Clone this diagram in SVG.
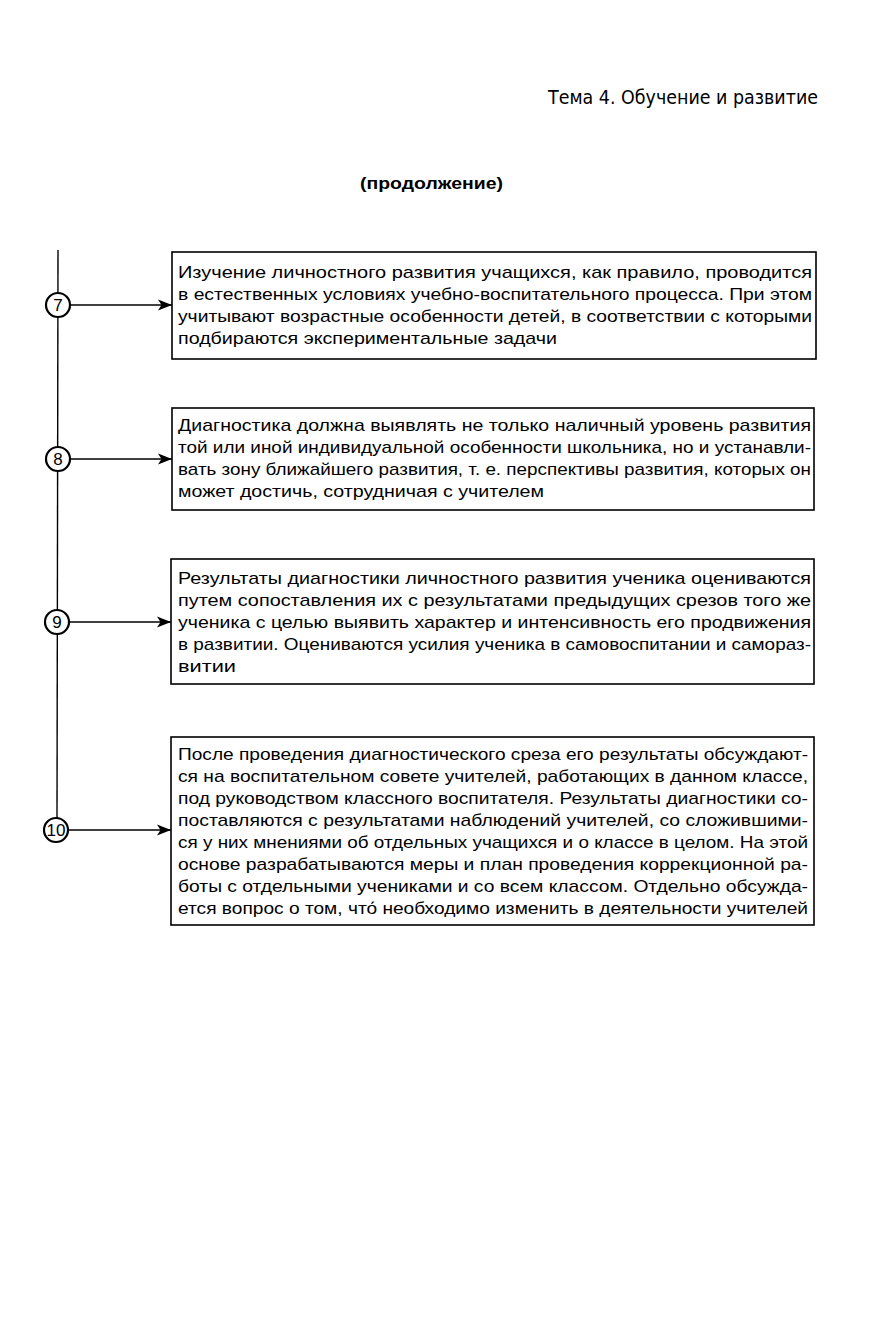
<svg xmlns="http://www.w3.org/2000/svg" width="888" height="1334" viewBox="0 0 888 1334">
<style>
.box{fill:#fff;stroke:#000;stroke-width:1.6}
.t{font-family:"Liberation Sans",Arial,sans-serif;font-size:17px;fill:#000}
.num{font-family:"Liberation Sans",Arial,sans-serif;font-size:17px;fill:#000;text-anchor:middle}
.circ{fill:#fff;stroke:#000;stroke-width:2.2}
.ln{stroke:#000;stroke-width:1.4;fill:none}
</style>
<defs>
<marker id="arr" markerWidth="16" markerHeight="12" refX="14" refY="6" orient="auto" markerUnits="userSpaceOnUse">
<path d="M0,0.5 L14,6 L0,11.5 L3.5,6 Z" fill="#000"/>
</marker>
</defs>
<rect width="888" height="1334" fill="#fff"/>
<g id="header">
<text x="548" y="104" font-family="DejaVu Sans,sans-serif" font-size="20" textLength="270" lengthAdjust="spacingAndGlyphs">Тема 4. Обучение и развитие</text>
<text x="360" y="189" font-family="Liberation Sans,Arial,sans-serif" font-size="17" font-weight="bold" textLength="143" lengthAdjust="spacingAndGlyphs">(продолжение)</text>
</g>
<g id="connectors">
<line class="ln" x1="58" y1="250" x2="57" y2="818" stroke-width="1.8"/>
<line class="ln" x1="70" y1="305" x2="172" y2="305" marker-end="url(#arr)"/>
<line class="ln" x1="70" y1="459" x2="172" y2="459" marker-end="url(#arr)" stroke-width="1.8"/>
<line class="ln" x1="69" y1="622" x2="171" y2="622" marker-end="url(#arr)"/>
<line class="ln" x1="68" y1="830" x2="171" y2="830" marker-end="url(#arr)"/>
</g>
<g id="n7">
<circle class="circ" cx="58" cy="305" r="12"/>
<text class="num" x="58" y="311">7</text>
</g>
<g id="n8">
<circle class="circ" cx="58" cy="459" r="12"/>
<text class="num" x="58" y="465">8</text>
</g>
<g id="n9">
<circle class="circ" cx="57" cy="622" r="12"/>
<text class="num" x="57" y="628">9</text>
</g>
<g id="n10">
<circle class="circ" cx="56" cy="830" r="12"/>
<text class="num" x="56" y="836" textLength="19" lengthAdjust="spacingAndGlyphs">10</text>
</g>
<g id="box7">
<rect class="box" x="172" y="252" width="644" height="107"/>
<text class="t" x="178" y="278" textLength="634" lengthAdjust="spacingAndGlyphs">Изучение личностного развития учащихся, как правило, проводится</text>
<text class="t" x="178" y="300" textLength="634" lengthAdjust="spacingAndGlyphs">в естественных условиях учебно-воспитательного процесса. При этом</text>
<text class="t" x="178" y="322" textLength="634" lengthAdjust="spacingAndGlyphs">учитывают возрастные особенности детей, в соответствии с которыми</text>
<text class="t" x="178" y="344" textLength="379" lengthAdjust="spacingAndGlyphs">подбираются экспериментальные задачи</text>
</g>
<g id="box8">
<rect class="box" x="172" y="408" width="642" height="102"/>
<text class="t" x="178" y="431" textLength="633" lengthAdjust="spacingAndGlyphs">Диагностика должна выявлять не только наличный уровень развития</text>
<text class="t" x="178" y="453" textLength="633" lengthAdjust="spacingAndGlyphs">той или иной индивидуальной особенности школьника, но и устанавли-</text>
<text class="t" x="178" y="475" textLength="633" lengthAdjust="spacingAndGlyphs">вать зону ближайшего развития, т. е. перспективы развития, которых он</text>
<text class="t" x="178" y="497" textLength="366" lengthAdjust="spacingAndGlyphs">может достичь, сотрудничая с учителем</text>
</g>
<g id="box9">
<rect class="box" x="171" y="559" width="643" height="125"/>
<text class="t" x="178" y="584" textLength="633" lengthAdjust="spacingAndGlyphs">Результаты диагностики личностного развития ученика оцениваются</text>
<text class="t" x="178" y="606" textLength="633" lengthAdjust="spacingAndGlyphs">путем сопоставления их с результатами предыдущих срезов того же</text>
<text class="t" x="178" y="628" textLength="633" lengthAdjust="spacingAndGlyphs">ученика с целью выявить характер и интенсивность его продвижения</text>
<text class="t" x="178" y="650" textLength="633" lengthAdjust="spacingAndGlyphs">в развитии. Оцениваются усилия ученика в самовоспитании и самораз-</text>
<text class="t" x="178" y="672" textLength="58" lengthAdjust="spacingAndGlyphs">витии</text>
</g>
<g id="box10">
<rect class="box" x="171" y="737" width="643" height="188"/>
<text class="t" x="178" y="760" textLength="630" lengthAdjust="spacingAndGlyphs">После проведения диагностического среза его результаты обсуждают-</text>
<text class="t" x="178" y="782" textLength="630" lengthAdjust="spacingAndGlyphs">ся на воспитательном совете учителей, работающих в данном классе,</text>
<text class="t" x="178" y="804" textLength="630" lengthAdjust="spacingAndGlyphs">под руководством классного воспитателя. Результаты диагностики со-</text>
<text class="t" x="178" y="826" textLength="630" lengthAdjust="spacingAndGlyphs">поставляются с результатами наблюдений учителей, со сложившими-</text>
<text class="t" x="178" y="848" textLength="630" lengthAdjust="spacingAndGlyphs">ся у них мнениями об отдельных учащихся и о классе в целом. На этой</text>
<text class="t" x="178" y="870" textLength="630" lengthAdjust="spacingAndGlyphs">основе разрабатываются меры и план проведения коррекционной ра-</text>
<text class="t" x="178" y="892" textLength="630" lengthAdjust="spacingAndGlyphs">боты с отдельными учениками и со всем классом. Отдельно обсужда-</text>
<text class="t" x="178" y="914" textLength="630" lengthAdjust="spacingAndGlyphs">ется вопрос о том, что́ необходимо изменить в деятельности учителей</text>
</g>
</svg>
